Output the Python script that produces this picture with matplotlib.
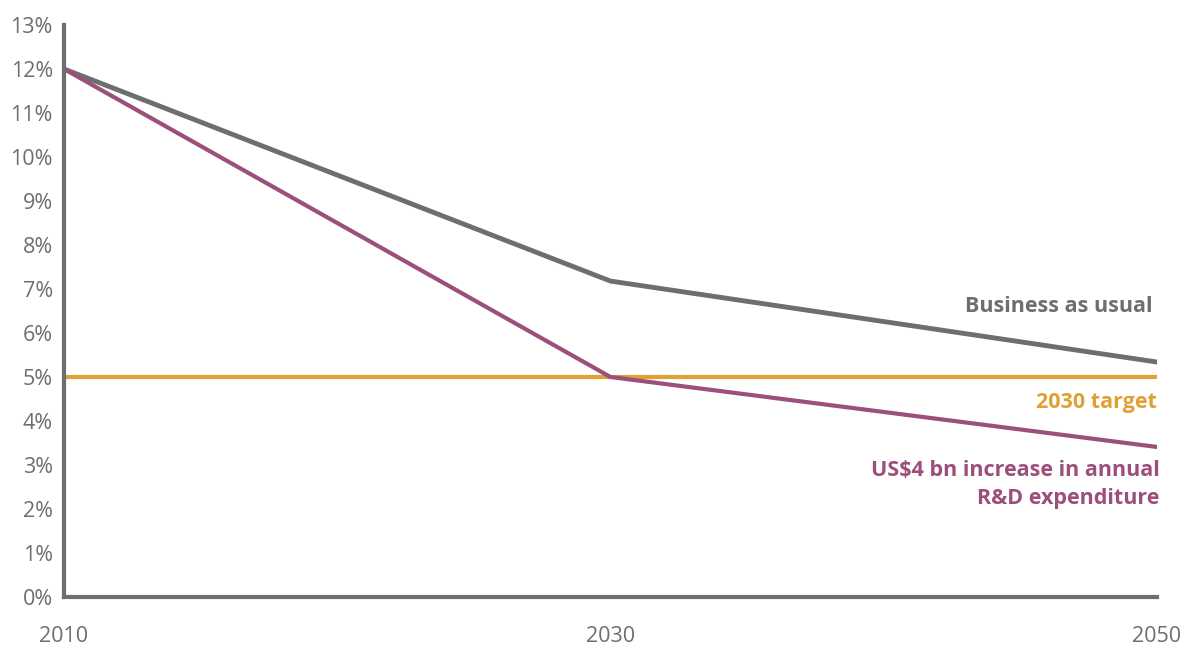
import matplotlib
matplotlib.use("Agg")
import matplotlib.pyplot as plt

plt.rcParams["font.family"] = ["Open Sans", "DejaVu Sans"]

years = [2010, 2030, 2050]
business = [12.0, 7.18, 5.34]
rnd = [12.0, 5.0, 3.41]
target = [5.0, 5.0, 5.0]
yticks = list(range(0, 14))

GREY, PURPLE, GOLD = "#6d6e71", "#9b4f7a", "#e0a033"

fig = plt.figure(figsize=(11.88, 6.48), dpi=100)
ax = fig.add_axes([64/1188, 1 - 597/648, (1157 - 64)/1188, (597 - 25)/648])

ax.plot(years, target, color=GOLD, lw=3, solid_capstyle="butt")
ax.plot(years, business, color=GREY, lw=3.5)
ax.plot(years, rnd, color=PURPLE, lw=3)

ax.set_xlim(2010, 2050)
ax.set_ylim(0, 13)
ax.set_xticks(years)
ax.set_yticks(yticks)
ax.set_yticklabels([f"{v}%" for v in yticks])
ax.tick_params(length=0, labelsize=15.5, labelcolor=GREY)
ax.tick_params(axis="x", pad=21)
ax.tick_params(axis="y", pad=8)
for s in ["top", "right"]:
    ax.spines[s].set_visible(False)
for s in ["left", "bottom"]:
    ax.spines[s].set_color(GREY)
    ax.spines[s].set_linewidth(3)

ax.text(2049.85, 6.6, "Business as usual", ha="right", va="center",
        color=GREY, fontsize=15.5, weight="bold")
ax.text(2050, 4.41, "2030 target", ha="right", va="center",
        color=GOLD, fontsize=15.5, weight="bold")
ax.text(2050.1, 2.55, "US$4 bn increase in annual\nR&D expenditure", ha="right",
        va="center", color=PURPLE, fontsize=15.5, weight="bold", linespacing=1.45)

fig.savefig("out.png", dpi=100)
